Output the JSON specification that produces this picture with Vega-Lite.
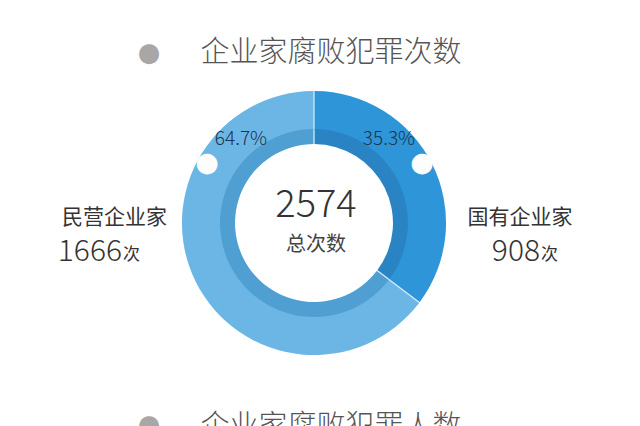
{
  "$schema": "https://vega.github.io/schema/vega-lite/v6.json",
  "autosize": {"type": "none"},
  "width": 628,
  "height": 406,
  "padding": {"left": 0, "top": 20, "right": 12, "bottom": 0},
  "background": "white",
  "config": {"view": {"stroke": null}, "font": "Noto Sans CJK SC"},
  "data": {
    "values": [
      {"类型": "国有企业家", "次数": 908, "占比": 0.353},
      {"类型": "民营企业家", "次数": 1666, "占比": 0.647}
    ]
  },
  "resolve": {"scale": {"color": "independent"}},
  "layer": [
    {
      "mark": {"type": "arc", "outerRadius": 132, "innerRadius": 79, "color": "#cdebf8"},
      "encoding": {
        "theta": {"field": "次数", "type": "quantitative", "stack": true},
        "order": {"field": "类型", "type": "nominal"}
      }
    },
    {
      "mark": {"type": "arc", "outerRadius": 132, "innerRadius": 93, "padAngle": 0.008},
      "encoding": {
        "theta": {"field": "次数", "type": "quantitative", "stack": true},
        "order": {"field": "类型", "type": "nominal"},
        "color": {
          "field": "类型",
          "type": "nominal",
          "scale": {"domain": ["国有企业家", "民营企业家"], "range": ["#2e96d8", "#6cb6e6"]},
          "legend": null
        }
      }
    },
    {
      "mark": {"type": "arc", "outerRadius": 94, "innerRadius": 79, "padAngle": 0.011},
      "encoding": {
        "theta": {"field": "次数", "type": "quantitative", "stack": true},
        "order": {"field": "类型", "type": "nominal"},
        "color": {
          "field": "类型",
          "type": "nominal",
          "scale": {"domain": ["国有企业家", "民营企业家"], "range": ["#2a84c4", "#4f9fd2"]},
          "legend": null
        }
      }
    },
    {
      "transform": [{"filter": "datum['类型'] == '国有企业家'"}],
      "mark": {"type": "text", "fontSize": 19, "fontWeight": 300, "color": "#1b3550", "dx": 75, "dy": -84},
      "encoding": {"text": {"field": "占比", "type": "quantitative", "format": ".1%"}}
    },
    {
      "transform": [{"filter": "datum['类型'] == '民营企业家'"}],
      "mark": {"type": "text", "fontSize": 19, "fontWeight": 300, "color": "#1b3550", "dx": -73, "dy": -84},
      "encoding": {"text": {"field": "占比", "type": "quantitative", "format": ".1%"}}
    },
    {
      "transform": [{"filter": "datum['类型'] == '国有企业家'"}],
      "mark": {"type": "text", "font": "DejaVu Sans", "fontSize": 27, "color": "#fdfdfd", "dx": 108, "dy": -60},
      "encoding": {"text": {"value": "●"}}
    },
    {
      "transform": [{"filter": "datum['类型'] == '民营企业家'"}],
      "mark": {"type": "text", "font": "DejaVu Sans", "fontSize": 27, "color": "#fdfdfd", "dx": -107, "dy": -60},
      "encoding": {"text": {"value": "●"}}
    },
    {
      "transform": [{"filter": "datum['类型'] == '国有企业家'"}],
      "mark": {"type": "text", "fontSize": 21, "color": "#333333", "dx": 206, "dy": -5},
      "encoding": {"text": {"field": "类型", "type": "nominal"}}
    },
    {
      "transform": [{"filter": "datum['类型'] == '民营企业家'"}],
      "mark": {"type": "text", "align": "left", "fontSize": 21, "color": "#333333", "dx": -252, "dy": -5},
      "encoding": {"text": {"field": "类型", "type": "nominal"}}
    },
    {
      "transform": [{"filter": "datum['类型'] == '国有企业家'"}],
      "mark": {"type": "text", "align": "right", "fontSize": 30, "fontWeight": 300, "color": "#333333", "dx": 226, "dy": 29},
      "encoding": {"text": {"field": "次数", "type": "quantitative", "format": "d"}}
    },
    {
      "transform": [{"filter": "datum['类型'] == '国有企业家'"}],
      "mark": {"type": "text", "align": "left", "fontSize": 17, "color": "#333333", "dx": 227, "dy": 32},
      "encoding": {"text": {"value": "次"}}
    },
    {
      "transform": [{"filter": "datum['类型'] == '民营企业家'"}],
      "mark": {"type": "text", "align": "right", "fontSize": 30, "fontWeight": 300, "color": "#333333", "dx": -192, "dy": 29},
      "encoding": {"text": {"field": "次数", "type": "quantitative", "format": "d"}}
    },
    {
      "transform": [{"filter": "datum['类型'] == '民营企业家'"}],
      "mark": {"type": "text", "align": "left", "fontSize": 17, "color": "#333333", "dx": -191, "dy": 32},
      "encoding": {"text": {"value": "次"}}
    },
    {
      "transform": [{"aggregate": [{"op": "sum", "field": "次数", "as": "总数"}]}],
      "mark": {"type": "text", "fontSize": 38, "fontWeight": 300, "color": "#333333", "dx": 2, "dy": -17},
      "encoding": {"text": {"field": "总数", "type": "quantitative", "format": "d"}}
    },
    {
      "transform": [{"aggregate": [{"op": "sum", "field": "次数", "as": "总数"}]}],
      "mark": {"type": "text", "fontSize": 20, "color": "#444444", "dx": 2, "dy": 22},
      "encoding": {"text": {"value": "总次数"}}
    },
    {
      "transform": [{"aggregate": [{"op": "sum", "field": "次数", "as": "总数"}]}],
      "mark": {"type": "text", "fontSize": 29, "fontWeight": 300, "color": "#555555", "dx": 17, "dy": -170},
      "encoding": {"text": {"value": "企业家腐败犯罪次数"}}
    },
    {
      "transform": [{"aggregate": [{"op": "sum", "field": "次数", "as": "总数"}]}],
      "mark": {"type": "text", "font": "DejaVu Sans", "fontSize": 26, "color": "#a9a6a6", "dx": -165, "dy": -170},
      "encoding": {"text": {"value": "●"}}
    },
    {
      "transform": [{"aggregate": [{"op": "sum", "field": "次数", "as": "总数"}]}],
      "mark": {"type": "text", "fontSize": 29, "fontWeight": 300, "color": "#555555", "dx": 17, "dy": 204},
      "encoding": {"text": {"value": "企业家腐败犯罪人数"}}
    },
    {
      "transform": [{"aggregate": [{"op": "sum", "field": "次数", "as": "总数"}]}],
      "mark": {"type": "text", "font": "DejaVu Sans", "fontSize": 26, "color": "#a9a6a6", "dx": -165, "dy": 202},
      "encoding": {"text": {"value": "●"}}
    }
  ]
}
